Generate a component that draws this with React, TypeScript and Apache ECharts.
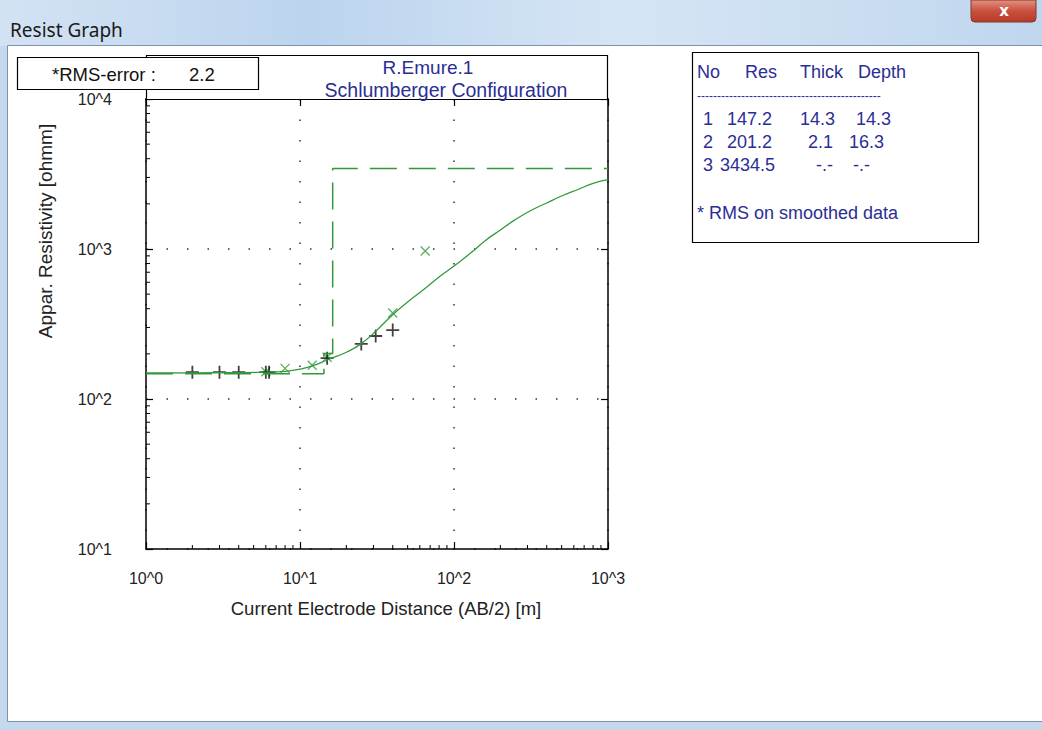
import React, { useEffect, useRef } from "react";
import * as echarts from "echarts";

// ---------- data ----------
const X_MIN = 1;
const X_MAX = 1000;
const Y_MIN = 10;
const Y_MAX = 10000;

// observed apparent resistivity (black +)
const obsAB = [2, 3, 4, 6, 6.3, 15, 25, 31, 40];
const obsRho = [151, 151, 151, 151, 151, 187, 233, 263, 288];

// smoothed data (green x)
const smAB = [6, 8, 12, 15, 40, 65];
const smRho = [152, 160, 168, 190, 374, 970];

// model response curve (green line)
const curveAB = [1, 2, 4, 6, 8, 10, 12, 15, 20, 25, 32, 40, 50, 63, 80, 100, 130, 160, 200, 250, 320, 400, 500, 650, 800, 1000];
const curveRho = [149, 149.5, 150, 151, 153, 158, 166, 182, 205, 234, 292, 365, 443, 533, 650, 770, 950, 1140, 1339, 1570, 1820, 2027, 2256, 2512, 2740, 2900];

// layered model
const layerNo = ["1", "2", "3"];
const layerRes = [147.2, 201.2, 3434.5];
const layerThick = ["14.3", "2.1", "-.-"];
const layerDepthTxt = ["14.3", "16.3", "-.-"];
const layerDepth = [14.3, 16.3];

const minorMult = [2, 3, 4, 5, 6, 7, 8, 9];
const xDecades = [1, 10, 100];
const yDecades = [10, 100, 1000];

const rmsLabel = "*RMS-error :";
const rmsValue = "2.2";
const titleLines = ["R.Emure.1", "Schlumberger Configuration"];
const xName = "Current Electrode Distance (AB/2) [m]";
const yName = "Appar. Resistivity [ohmm]";
const tableHeader = ["No", "Res", "Thick", "Depth"];
const footNote = "* RMS on smoothed data";
const windowTitle = "Resist Graph";

const GREEN = "#33993a";
const NAVY = "#2a2e96";
const FONT = "Liberation Sans, Arial, sans-serif";

export default function App() {
  const ref = useRef<HTMLDivElement>(null);
  useEffect(() => {
    document.body.style.margin = "0";
    const chart = echarts.init(ref.current!, null, { renderer: "svg", width: 1042, height: 730 });

    const stepData: number[][] = [];
    stepData.push([X_MIN, layerRes[0]]);
    for (let i = 0; i < layerDepth.length; i++) {
      stepData.push([layerDepth[i], layerRes[i]]);
      stepData.push([layerDepth[i], layerRes[i + 1]]);
    }
    stepData.push([X_MAX, layerRes[layerRes.length - 1]]);

    const minorX: number[][] = [];
    xDecades.forEach((d) => minorMult.forEach((m) => minorX.push([d * m, Y_MIN])));
    const minorY: number[][] = [];
    yDecades.forEach((d) => minorMult.forEach((m) => minorY.push([X_MIN, d * m])));

    const fmt = (v: number) => "10^" + Math.round(Math.log10(v));

    const txt = (text: string, x: number, y: number, size: number, fill: string, align = "left", family = FONT, rotation = 0, weight = "normal") => ({
      type: "text",
      x,
      y,
      z: 10,
      rotation,
      style: {
        text,
        font: `${weight} ${size}px ${family}`,
        fill,
        align,
        textAlign: align,
        verticalAlign: "middle",
        textVerticalAlign: "middle",
      },
    });

    const tableX = [697, 745, 800, 858];
    const rowX = [[703, 727, 800, 856], [703, 727, 808, 849], [703, 720, 816, 853]];
    const rowY = [119, 142, 165];
    const TF = 18;

    const graphics: any[] = [
      // window chrome
      { type: "rect", z: -10, shape: { x: 0, y: 0, width: 1042, height: 730 }, style: { fill: "#c5d9ee" } },
      {
        type: "rect", z: -9, shape: { x: 0, y: 0, width: 1042, height: 46 },
        style: {
          fill: new echarts.graphic.LinearGradient(0, 0, 1, 0, [
            { offset: 0, color: "#d3e2f3" },
            { offset: 0.3, color: "#bcd4ee" },
            { offset: 0.6, color: "#d6e5f5" },
            { offset: 1, color: "#c0d6ee" },
          ]),
        },
      },
      { type: "rect", z: -8, shape: { x: 7.5, y: 45.5, width: 1040, height: 676 }, style: { fill: "#ffffff", stroke: "#7e93ab", lineWidth: 1 } },
      {
        type: "rect", z: -7, shape: { x: 971, y: 0, width: 65, height: 22, r: [0, 0, 4, 4] },
        style: {
          fill: new echarts.graphic.LinearGradient(0, 0, 0, 1, [
            { offset: 0, color: "#e49080" },
            { offset: 0.5, color: "#c9503e" },
            { offset: 1, color: "#b83a28" },
          ]),
          stroke: "#7a3a34",
          lineWidth: 1,
        },
      },
      txt("x", 1004, 11, 15, "#ffffff", "center", "DejaVu Sans, sans-serif", 0, "bold"),
      txt(windowTitle, 10, 30, 19, "#1a1a1a", "left", "Noto Sans, sans-serif"),
      // title box
      { type: "rect", z: 5, shape: { x: 146.5, y: 55.5, width: 461, height: 44 }, style: { fill: "#ffffff", stroke: "#000", lineWidth: 1.2 } },
      txt(titleLines[0], 428, 67, 19, NAVY, "center"),
      txt(titleLines[1], 446, 90, 19.5, NAVY, "center"),
      // RMS box
      { type: "rect", z: 6, shape: { x: 17.5, y: 57.5, width: 241, height: 32 }, style: { fill: "#ffffff", stroke: "#000", lineWidth: 1.2 } },
      txt(rmsLabel, 52, 74, 18.5, "#111"),
      txt(rmsValue, 189, 74, 18.5, "#111"),
      // table box
      { type: "rect", z: 5, shape: { x: 692.5, y: 52.5, width: 286, height: 190 }, style: { fill: "#ffffff", stroke: "#000", lineWidth: 1.2 } },
      ...tableHeader.map((h, i) => txt(h, tableX[i], 72, TF, NAVY)),
      txt("----------------------------------------------", 697, 96, 12, NAVY),
      ...layerNo.map((n, r) => txt(n, rowX[r][0], rowY[r], TF, NAVY)),
      ...layerRes.map((v, r) => txt(String(v), rowX[r][1], rowY[r], TF, NAVY)),
      ...layerThick.map((v, r) => txt(v, rowX[r][2], rowY[r], TF, NAVY)),
      ...layerDepthTxt.map((v, r) => txt(v, rowX[r][3], rowY[r], TF, NAVY)),
      txt(footNote, 697, 213, TF, NAVY),
      // axis titles
      txt(yName, 45, 231, 19, "#222", "center", FONT, Math.PI / 2),
      txt(xName, 386, 608, 18.5, "#222", "center"),
    ];

    const axisLine = { show: true, lineStyle: { color: "#000", width: 1.5 } };
    const tick = { show: true, inside: true, length: 7, lineStyle: { color: "#000", width: 1.2 } };
    const split = { show: true, lineStyle: { color: "#333", width: 1.5, type: [1.5, 19] } };

    chart.setOption({
      animation: false,
      backgroundColor: "transparent",
      graphic: { elements: graphics },
      grid: { left: 146, top: 99, width: 462, height: 450, containLabel: false },
      xAxis: [
        {
          type: "log", logBase: 10, min: X_MIN, max: X_MAX, interval: 1, position: "bottom",
          axisLine, axisTick: tick, splitLine: split,
          axisLabel: { formatter: fmt, fontSize: 16, color: "#222", fontFamily: FONT, margin: 21 },
        },
        {
          type: "log", logBase: 10, min: X_MIN, max: X_MAX, interval: 1, position: "top",
          axisLine, axisTick: tick, splitLine: { show: false }, axisLabel: { show: false },
        },
      ],
      yAxis: [
        {
          type: "log", logBase: 10, min: Y_MIN, max: Y_MAX, interval: 1, position: "left",
          axisLine, axisTick: tick, splitLine: split,
          axisLabel: { formatter: fmt, fontSize: 16, color: "#222", fontFamily: FONT, margin: 34 },
        },
        {
          type: "log", logBase: 10, min: Y_MIN, max: Y_MAX, interval: 1, position: "right",
          axisLine, axisTick: tick, splitLine: { show: false }, axisLabel: { show: false },
        },
      ],
      series: [
        {
          type: "line", data: stepData, symbol: "none", silent: true,
          lineStyle: { color: GREEN, width: 1.5, type: [27, 12] },
        },
        {
          type: "line", data: curveAB.map((x, i) => [x, curveRho[i]]), smooth: 0.5, symbol: "none", silent: true,
          lineStyle: { color: GREEN, width: 1.3 },
        },
        {
          type: "scatter", data: smAB.map((x, i) => [x, smRho[i]]), symbol: "path://M0,0L10,10M10,0L0,10", symbolSize: 9, silent: true,
          itemStyle: { color: "transparent", borderColor: GREEN, borderWidth: 1.3 },
        },
        {
          type: "scatter", data: obsAB.map((x, i) => [x, obsRho[i]]), symbol: "path://M0,6L12,6M6,0L6,12", symbolSize: 13, silent: true,
          itemStyle: { color: "transparent", borderColor: "#111", borderWidth: 1.8 },
        },
        {
          type: "custom", data: minorX, silent: true, clip: false,
          renderItem: (_p: any, api: any) => {
            const p = api.coord([api.value(0), api.value(1)]);
            return { type: "line", shape: { x1: p[0], y1: p[1], x2: p[0], y2: p[1] - 4 }, style: { stroke: "#000", lineWidth: 1 } };
          },
        },
        {
          type: "custom", data: minorY, silent: true, clip: false,
          renderItem: (_p: any, api: any) => {
            const p = api.coord([api.value(0), api.value(1)]);
            return { type: "line", shape: { x1: p[0], y1: p[1], x2: p[0] + 4, y2: p[1] }, style: { stroke: "#000", lineWidth: 1 } };
          },
        },
      ],
    });
    return () => chart.dispose();
  }, []);
  return <div ref={ref} style={{ width: 1042, height: 730, position: "absolute", left: 0, top: 0 }} />;
}
